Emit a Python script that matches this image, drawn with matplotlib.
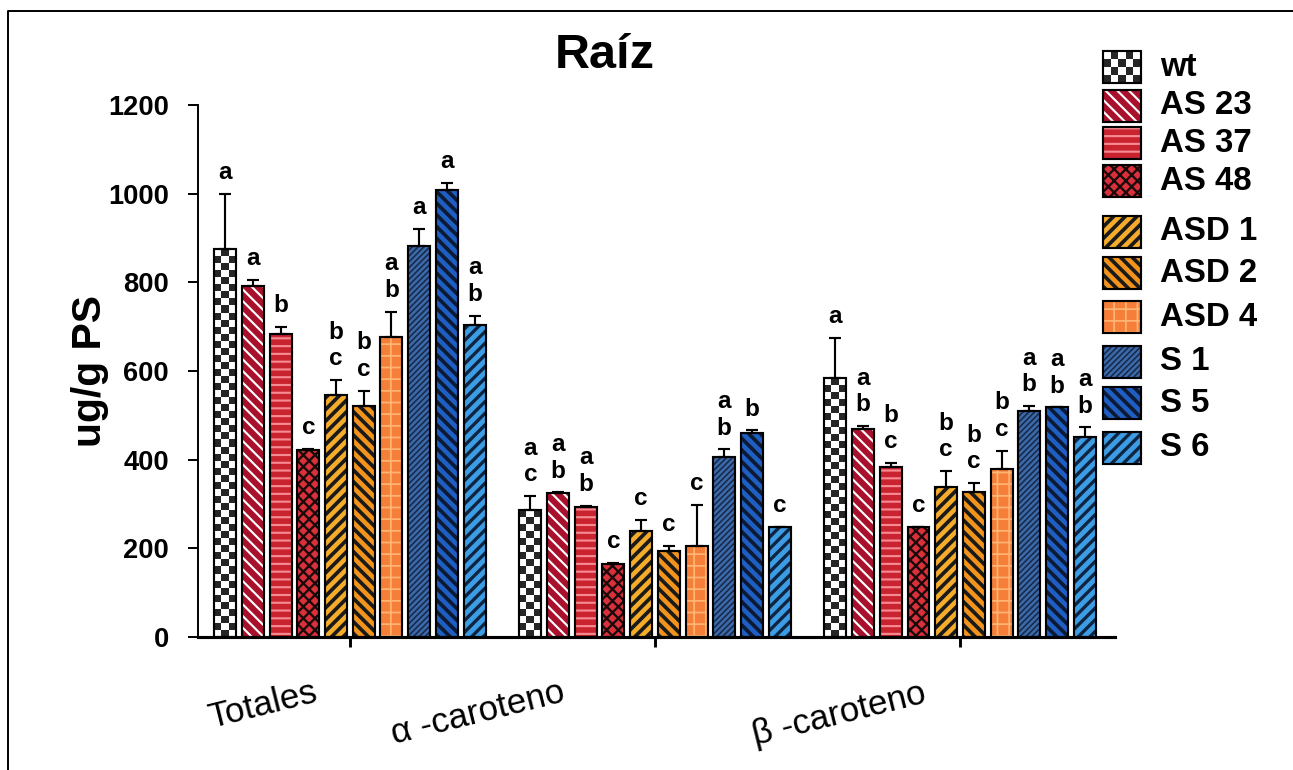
import numpy as np
import matplotlib
matplotlib.use('Agg')
import matplotlib.pyplot as plt
from matplotlib.colors import ListedColormap
from matplotlib.patches import Rectangle
from matplotlib.lines import Line2D

groups = ['Totales', 'α -caroteno', 'β -caroteno']
lines = ['wt', 'AS 23', 'AS 37', 'AS 48', 'ASD 1', 'ASD 2', 'ASD 4', 'S 1', 'S 5', 'S 6']

# ug/g PS per line
totales = [875, 792, 683, 422, 546, 521, 676, 883, 1008, 704]
alfa = [286, 324, 294, 165, 239, 194, 206, 407, 460, 249]
beta = [584, 469, 384, 249, 338, 326, 379, 510, 518, 452]

err_totales = [124, 13, 17, 3, 34, 35, 58, 37, 17, 21]
err_alfa = [32, 2, 2, 2, 25, 12, 92, 16, 6, 0]
err_beta = [91, 7, 8, 0, 36, 21, 41, 11, 0, 21]

let_totales = ['a', 'a', 'b', 'c', 'b\nc', 'b\nc', 'a\nb', 'a', 'a', 'a\nb']
let_alfa = ['a\nc', 'a\nb', 'a\nb', 'c', 'c', 'c', 'c', 'a\nb', 'b', 'c']
let_beta = ['a', 'a\nb', 'b\nc', 'c', 'b\nc', 'b\nc', 'b\nc', 'a\nb', 'a\nb', 'a\nb']

values = np.array([totales, alfa, beta])
errors = np.array([err_totales, err_alfa, err_beta])
letters = [let_totales, let_alfa, let_beta]

# fill / hatch style of each line
faces = ['white', '#A8102C', '#C8232F', '#D9303C', '#F5AC2A', '#F2941C',
         '#F57E38', '#3C69A8', '#1F5FC4', '#3D9DE4']
hatch_cols = ['white', 'white', '#F58A92', '#1A0A0A', '#1A1A1A', '#1A1A1A',
              '#FFB474', '#15284A', '#0D1A33', '#0F2440']
hatches = [None, '\\\\\\\\', '---', 'xxxx', '////', '\\\\\\\\', '++', '////////',
           '\\\\\\\\', '////']
hatch_lw = [0.5, 1.1, 1.1, 1.2, 1.9, 1.9, 0.9, 0.8, 1.9, 1.7]

W, H, DPI = 1293, 770, 140
plt.rcParams['font.family'] = ['Liberation Sans', 'DejaVu Sans']
checker_cmap = ListedColormap(['white', '#262626'])


def set_hlw(patch, lw):
    if hasattr(patch, 'set_hatch_linewidth'):
        patch.set_hatch_linewidth(lw)


def checker(ax, rect, sq=7):
    x0, y0 = rect.get_x(), rect.get_y()
    w, h = rect.get_width(), rect.get_height()
    (p0x, p0y), (p1x, p1y) = ax.transData.transform([(x0, y0), (x0 + w, y0 + h)])
    nx = max(1, int(round(abs(p1x - p0x) / sq)))
    ny = max(1, int(round(abs(p1y - p0y) / sq)))
    grid = np.add.outer(np.arange(ny), np.arange(nx)) % 2
    im = ax.imshow(grid, extent=[x0, x0 + w, y0, y0 + h], cmap=checker_cmap,
                   interpolation='nearest', aspect='auto', origin='lower',
                   zorder=1.5)
    im.set_clip_path(rect)


fig = plt.figure(figsize=(W / DPI, H / DPI), dpi=DPI)
ax = fig.add_axes([198 / W, 133 / H, 917 / W, 532 / H])
ax.set_xlim(-0.498, 2.508)
ax.set_ylim(0, 1200)

slot, width = 0.0908, 0.072
gx = np.arange(len(groups))
for i, name in enumerate(lines):
    x = gx + (i - 4.5) * slot
    v = values[:, i]
    fill = ax.bar(x, v, width, color=faces[i], edgecolor=hatch_cols[i],
                  linewidth=0, hatch=hatches[i], zorder=1)
    for p in fill:
        set_hlw(p, hatch_lw[i])
    if name == 'wt':
        for p in fill:
            checker(ax, p)
    ax.bar(x, v, width, fill=False, edgecolor='black', linewidth=1.1, zorder=2)
    ax.errorbar(x, v, yerr=[np.zeros(len(v)), errors[:, i]], fmt='none',
                ecolor='black', elinewidth=1.1, capsize=3, capthick=1.1, zorder=3)
    for g in range(len(groups)):
        ax.annotate(letters[g][i], (x[g], v[g] + errors[g, i]),
                    xytext=(0, 5), textcoords='offset points', ha='center',
                    va='bottom', fontsize=12.5, fontweight='bold', linespacing=1.2)

ax.set_xlim(-0.498, 2.508)
ax.set_ylim(0, 1200)
ax.spines[['top', 'right']].set_visible(False)
ax.spines['bottom'].set_linewidth(1.6)
ax.spines['left'].set_linewidth(1.0)
ax.set_yticks(np.arange(0, 1201, 200))
ax.tick_params(axis='y', direction='out', length=5, width=1.0, pad=10,
               labelsize=14)
for t in ax.get_yticklabels():
    t.set_fontweight('bold')
ax.set_xticks(gx)
ax.set_xticklabels([])
ax.tick_params(axis='x', direction='out', length=5, width=1.5)

# category labels, tilted
label_off = [(-45, -35), (-91, -39), (-62, -40)]
for g, name in enumerate(groups):
    ax.annotate(name, (g, 0), xycoords=('data', 'axes fraction'),
                xytext=label_off[g], textcoords='offset points',
                ha='center', va='center', rotation=14, rotation_mode='anchor',
                fontsize=18, annotation_clip=False)

ax.set_ylabel('ug/g PS', fontsize=21, fontweight='bold')
ax.yaxis.set_label_coords(-0.097, 0.5)

fig.text(605 / W, 1 - 68 / H, 'Raíz', ha='center', va='baseline',
         fontsize=25, fontweight='bold')

# legend, drawn in a pixel-space overlay
lax = fig.add_axes([0, 0, 1, 1])
lax.set_xlim(0, W)
lax.set_ylim(H, 0)
lax.axis('off')
rows = [67, 106, 143, 181, 232, 273, 317, 362, 403, 448]
for i, name in enumerate(lines):
    cy = rows[i]
    r = Rectangle((1103, cy - 16), 38, 32, facecolor=faces[i],
                  edgecolor=hatch_cols[i], linewidth=0, hatch=hatches[i], zorder=1)
    set_hlw(r, hatch_lw[i])
    lax.add_patch(r)
    if name == 'wt':
        im = lax.imshow(np.add.outer(np.arange(4), np.arange(5)) % 2,
                        extent=[1103, 1141, cy + 16, cy - 16], cmap=checker_cmap,
                        interpolation='nearest', aspect='auto', zorder=1.5)
        im.set_clip_path(r)
    lax.add_patch(Rectangle((1103, cy - 16), 38, 32, fill=False,
                            edgecolor='black', linewidth=1.1, zorder=2))
    lax.text(1160, cy, name, va='center', ha='left', fontsize=17,
             fontweight='bold')
lax.set_xlim(0, W)
lax.set_ylim(H, 0)

# frame line
fig.add_artist(Line2D([8 / W, 8 / W, 1], [0, 1 - 11 / H, 1 - 11 / H],
                      transform=fig.transFigure, color='black', linewidth=1.0))

fig.savefig('out.png', dpi=DPI)
